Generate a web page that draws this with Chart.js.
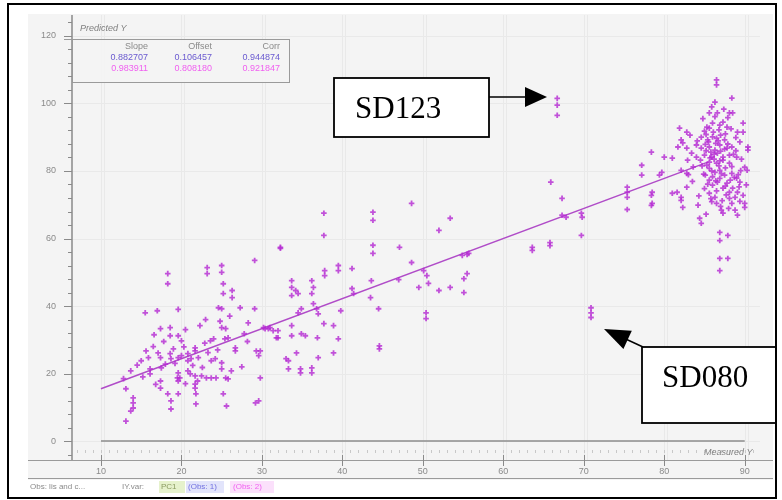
<!DOCTYPE html>
<html>
<head>
<meta charset="utf-8">
<script src="https://cdn.jsdelivr.net/npm/chart.js@4"></script>
<style>
  html, body { margin: 0; padding: 0; background: #fff; }
  #plot { display: block; }
</style>
</head>
<body>
<canvas id="plot" width="782" height="500"></canvas>
<script>
// measured / predicted values
const lowX = [32.3,29.1,25,25,23.2,23.2,18.3,18.3,25.2,25.2,26.3,26.3,15.5,17,19.6,24.6,25,27.3,29.1,23,22.3,17.4,18.6,18.6,19.6,20,25,25.5,28.3,30.4,31,32,32,23.6,24,25.4,25.8,26.7,26.7,21.7,21.7,17.1,17.4,15.6,15.9,18.6,18.7,19.6,20,20.8,20.8,21.2,22.1,23.7,24.2,25,25,29.3,29.6,16.1,16.1,13.7,17.5,19.6,19.8,20.8,21.1,21.7,22.5,23.1,23.7,24.3,25.5,25.8,19.5,19.6,17.4,17.4,13.1,18.3,19.6,21.7,21.7,26.2,25.2,21.8,21.8,14,14,14,18.7,18.7,25.6,29.6,29.8,13.1,33,29.2,13.7,12.8,14.5,15.2,
    16.5,17.8,19,20.3,21.4,22.6,23.3,24.5,22.9,18,19.2,20.5,22,16.8,15,27.5,28.2,27.8,24.8,20.5,16.6,26];
const lowY = [57.4,53.5,52,50,51.4,49.6,49.6,46.6,46.6,43.7,44.6,42.5,38,38.6,39,39.5,39.2,39.5,39.2,36,34.2,33.3,33.6,31.2,31.2,29.7,33.6,33.3,35,33.3,33.6,32.7,30.6,29.7,30.3,30.3,30.6,27.6,26.7,27.6,26.7,26.1,24.7,26.7,24.7,25.9,24.4,24.7,25.3,25.9,23.8,24.4,24.7,23.8,24.4,23.2,21.4,26.7,25.3,21.4,19.9,20.8,21.7,20.2,18.7,20.8,19.9,19.3,19.3,18.7,18.7,18.7,18.7,18.4,18.7,17.8,17.8,15.7,15.5,14,14,16.9,15.7,20.8,14,14,11,12.8,11.3,9.8,11.9,9.5,10.4,11.9,18.7,5.9,24.4,11.3,8.9,18.5,22.5,19,
    28,29.5,27.3,27.9,22.4,21.8,26.2,27,29,22.8,23,17,17.8,16.8,23.8,22,29.5,31.8,35.5,33,31.5,37];

const midX = [37.7,37.7,43.8,43.8,48.6,53.4,52,32.3,43.8,43.8,47.1,48.6,50.1,50.5,49.5,50.7,52,53.4,39.5,39.5,41.2,37.8,37.8,33.7,33.7,33.7,34.2,34.5,36.2,36.4,36.2,41.2,41.4,43.6,43.5,47,34.9,34.5,36.4,36.8,37,39.8,44.5,50.4,50.4,30.2,30.8,31.4,31.8,33.7,33.7,34.9,35.4,36.9,37.7,38.9,39.5,44.6,44.6,34.3,37,38.9,33.3,33.3,34.8,34.8,36.2,36.2,29.8];
const midY = [67.5,60.9,67.8,65.4,70.4,66,62.4,57.1,58,55.6,57.4,52.9,50.5,49,45.5,46.7,44.6,45.5,52,50.5,51.1,50.5,49,47.5,45.5,43.1,44.6,43.7,47.5,45.5,43.7,45.2,43.7,47.5,42.5,47.8,39.2,38,40.7,39.2,37.7,38.6,39.2,38,36.3,33.6,33.3,32.7,30.6,34.2,31.2,31.8,31.2,30.6,34.8,34.2,30.3,28.2,27.3,26.1,24.7,26.1,23.8,21.4,21.4,20.2,21.7,20.2,26.7];

const upperX = [65.9,67.3,67.3,67.8,69.7,69.8,69.7,75.4,75.4,75.4,75.4,63.6,63.6,65.8,65.8,54.9,55.5,55.7,55.5,55.1,55.1,70.9,70.9,70.9,66.7,66.7,66.7];
const upperY = [76.7,71.9,66.9,66.3,67.5,66.3,60.9,75.2,73.7,72.2,68.6,57.4,56.5,58.8,57.9,55,55.3,55.6,49.6,48.1,44,39.5,38,36.6,101.5,99.5,96.5];

const highX = [86.5,86.5,86.3,88.4,88.1,88.5,85.6,86.6,89.8,81.9,82.8,85.3,85.6,86,86.9,87.3,87.8,89.1,89.8,84.6,85.4,86.5,87.5,82.1,82.3,89.4,84,84.6,85.6,86.3,86.9,87.8,88.4,90.4,90.4,81.7,82.8,83.4,84,85,85.9,86.6,87.3,88.1,89,78.4,80,81,82.9,85.6,86.5,87.3,88.1,90,90.3,77.2,77.2,79.7,79.4,82.1,82.8,85.6,86.3,86.9,87.5,88.4,89,89.4,78.5,78.5,81,81.6,82.1,82.1,82.3,82.8,85.6,86,86.6,87.3,87.8,88.1,88.5,88.8,89.1,89.8,90,90,85.6,86.3,86.5,87.1,87.3,88.1,88.4,89.1,84.4,84.6,86.9,86.9,87.9,86.9,87.9,86.9,78.4,78.4,85.2,86.1,87,86.4,85.8,87,86.2,85.3,86.8,87.6,86,85.4,86.9,88.7,87.2,85.9,88.8,89.6,84.8,87.9,83.6,84.9,88.9,86.3,85.1,
    85,86,86.8,87.6,88.3,85.5,86.7,87.9,88.9,85.2,86.2,87.5,88.6,84.5,85.7,86.9,88.4,89.5,84.7,85.9,87.1,88.2,85.1,86.4,87.6,89.3,85,86.5,87.7,89.4,85.8,87,88,84.3,83.5,83,84.1,83.2,87.4,85.9,89.2,90.2,84.2,85.2];
const highY = [107,105.5,100.4,101.6,97.2,97.2,97.2,97.2,94.2,92.7,91.5,93,92.7,94.2,93.6,94.5,93,91.5,91.5,90,89.2,89.7,89.2,89.2,88.3,88.6,87.7,86.8,87.1,86.2,87.7,86.8,87.1,87.1,86.2,87.1,86.8,85.3,84.1,84.7,84.1,85.3,84.1,84.7,84.1,85.6,84.1,83.8,83.2,82.6,82.3,83.2,82.3,81.1,80.2,81.7,78.8,79.6,78.8,80.2,79.3,80.8,79.6,80.2,78.8,79.3,77.9,76.7,73.7,70.4,73.4,73.7,72.2,71.3,69.2,75.2,77.3,75.8,76.7,74.9,76.4,73.7,74.9,72.2,73.7,72.8,70.4,69.2,73.4,72.2,70.4,68.4,67.5,71.9,70.4,66.9,66,64.5,61.8,59.4,60.9,54.1,54.1,50.5,72.8,69.8,90.8,91.5,90.6,88.2,85.6,85.9,83.5,81.7,81.5,80.9,78.3,76.1,77.8,78.1,71.2,70.9,68.4,83.5,95.5,95.8,81.2,79.1,89.9,96.1,87.9,
    91.8,90.1,92.2,91,92.5,88.6,88.9,88,86,86,85,86.5,84.9,83.2,83.9,83,81.3,80.1,81.5,80,79.2,77.3,78.8,77.1,75.5,75.3,74.8,74.1,72.9,71,71.8,69.5,68.9,72.6,76.9,78.9,88.9,90.6,98.3,99,78.9,75.9,69.9,67.2];

// regression line
const fitX = [10, 85.5];
const fitY = [15.5, 82.7];

const xTicks = [10, 20, 30, 40, 50, 60, 70, 80, 90];
const yTicks = [0, 20, 40, 60, 80, 100, 120];

const statsHeader = ['Slope', 'Offset', 'Corr'];
const statsRow1 = ['0.882707', '0.106457', '0.944874'];
const statsRow2 = ['0.983911', '0.808180', '0.921847'];

function toPoints(xs, ys) {
    return xs.map((x, i) => ({ x: x, y: ys[i] }));
}

const allPoints = [].concat(
    toPoints(lowX, lowY),
    toPoints(midX, midY),
    toPoints(upperX, upperY),
    toPoints(highX, highY)
);

function arrowHead(ctx, fx, fy, tx, ty, len, half) {
    const a = Math.atan2(ty - fy, tx - fx);
    ctx.beginPath();
    ctx.moveTo(fx, fy);
    ctx.lineTo(tx - Math.cos(a) * len * 0.6, ty - Math.sin(a) * len * 0.6);
    ctx.stroke();
    ctx.beginPath();
    ctx.moveTo(tx, ty);
    ctx.lineTo(tx - Math.cos(a) * len + Math.sin(a) * half, ty - Math.sin(a) * len - Math.cos(a) * half);
    ctx.lineTo(tx - Math.cos(a) * len - Math.sin(a) * half, ty - Math.sin(a) * len + Math.cos(a) * half);
    ctx.closePath();
    ctx.fill();
}

const backdrop = {
    id: 'backdrop',
    beforeDraw(chart) {
        const ctx = chart.ctx;
        const xs = chart.scales.x, ys = chart.scales.y;
        const area = chart.chartArea;
        ctx.save();
        ctx.fillStyle = '#ffffff';
        ctx.fillRect(0, 0, chart.width, chart.height);
        // grey panel
        ctx.fillStyle = '#f4f4f4';
        ctx.fillRect(28, 14, 745, 466);

        // faint grid
        ctx.strokeStyle = '#e9e9e9';
        ctx.lineWidth = 1;
        xTicks.forEach(v => {
            const px = Math.round(xs.getPixelForValue(v)) + 0.5;
            ctx.beginPath(); ctx.moveTo(px, area.top); ctx.lineTo(px, area.bottom); ctx.stroke();
            ctx.beginPath(); ctx.moveTo(px + 3, area.top); ctx.lineTo(px + 3, area.bottom); ctx.stroke();
        });
        yTicks.forEach(v => {
            const py = Math.round(ys.getPixelForValue(v)) + 0.5;
            ctx.beginPath(); ctx.moveTo(area.left, py); ctx.lineTo(760, py); ctx.stroke();
        });

        // y axis
        ctx.strokeStyle = '#8a8a8a';
        ctx.lineWidth = 1.5;
        ctx.beginPath(); ctx.moveTo(72, area.top); ctx.lineTo(72, 460); ctx.stroke();
        ctx.lineWidth = 1;
        for (let v = -4; v <= 124; v += 4) {
            const py = Math.round(ys.getPixelForValue(v)) + 0.5;
            const major = v % 20 === 0;
            ctx.beginPath(); ctx.moveTo(major ? 64 : 68, py); ctx.lineTo(72, py); ctx.stroke();
        }
        ctx.fillStyle = '#8a8a8a';
        ctx.font = '9px "Liberation Sans", Arial, sans-serif';
        ctx.textAlign = 'right';
        ctx.textBaseline = 'middle';
        yTicks.forEach(v => {
            ctx.fillText(String(v), 56, ys.getPixelForValue(v));
        });

        // zero line
        ctx.strokeStyle = '#8c8c8c';
        ctx.lineWidth = 1.5;
        ctx.beginPath();
        ctx.moveTo(xs.getPixelForValue(xTicks[0]), ys.getPixelForValue(0));
        ctx.lineTo(xs.getPixelForValue(xTicks[xTicks.length - 1]), ys.getPixelForValue(0));
        ctx.stroke();

        // x axis band
        ctx.strokeStyle = '#9a9a9a';
        ctx.lineWidth = 1.2;
        ctx.beginPath(); ctx.moveTo(28, 460.5); ctx.lineTo(773, 460.5); ctx.stroke();
        ctx.beginPath(); ctx.moveTo(28, 478.5); ctx.lineTo(773, 478.5); ctx.stroke();
        ctx.lineWidth = 1;
        ctx.strokeStyle = '#c8c8c8';
        for (let v = 7; v <= 91; v += 1) {
            const px = Math.round(xs.getPixelForValue(v)) + 0.5;
            ctx.beginPath(); ctx.moveTo(px, 450); ctx.lineTo(px, 453); ctx.stroke();
        }
        ctx.strokeStyle = '#8a8a8a';
        xTicks.forEach(v => {
            const px = Math.round(xs.getPixelForValue(v)) + 0.5;
            ctx.beginPath(); ctx.moveTo(px, 455); ctx.lineTo(px, 466); ctx.stroke();
        });
        ctx.fillStyle = '#8a8a8a';
        ctx.textAlign = 'center';
        xTicks.forEach(v => {
            ctx.fillText(String(v), xs.getPixelForValue(v), 472);
        });

        // axis titles
        ctx.font = 'italic 9px "Liberation Sans", Arial, sans-serif';
        ctx.textAlign = 'left';
        ctx.fillStyle = '#808080';
        ctx.fillText('Predicted Y', 80, 28);
        ctx.fillText('Measured Y', 704, 452);
        ctx.restore();
    },
    afterDraw(chart) {
        const ctx = chart.ctx;
        ctx.save();

        // stats box
        ctx.fillStyle = 'rgba(244,244,244,0.9)';
        ctx.fillRect(72, 39, 218, 43);
        ctx.strokeStyle = '#9a9a9a';
        ctx.lineWidth = 1;
        ctx.strokeRect(72.5, 39.5, 217, 43);
        ctx.beginPath(); ctx.moveTo(64, 39.5); ctx.lineTo(72, 39.5); ctx.stroke();
        ctx.font = '9px "Liberation Sans", Arial, sans-serif';
        ctx.textAlign = 'right';
        ctx.textBaseline = 'middle';
        const cols = [148, 212, 280];
        statsHeader.forEach((t, i) => { ctx.fillStyle = '#8a8a8a'; ctx.fillText(t, cols[i], 47); });
        statsRow1.forEach((t, i) => { ctx.fillStyle = '#6a5ad0'; ctx.fillText(t, cols[i], 58); });
        statsRow2.forEach((t, i) => { ctx.fillStyle = '#f060f0'; ctx.fillText(t, cols[i], 69); });

        // status bar
        ctx.textAlign = 'left';
        ctx.font = '8px "Liberation Sans", Arial, sans-serif';
        ctx.fillStyle = '#8a8a8a';
        ctx.fillText('Obs: lis and c...', 30, 487);
        ctx.fillText('IY.var:', 122, 487);
        ctx.fillStyle = '#e6f2cc';
        ctx.fillRect(159, 481, 26, 12);
        ctx.fillStyle = '#8a9a60';
        ctx.fillText('PC1', 161, 487);
        ctx.fillStyle = '#e2e4fb';
        ctx.fillRect(186, 481, 38, 12);
        ctx.fillStyle = '#7070e0';
        ctx.fillText('(Obs: 1)', 188, 487);
        ctx.fillStyle = '#fbe0fb';
        ctx.fillRect(230, 481, 44, 12);
        ctx.fillStyle = '#f060f0';
        ctx.fillText('(Obs: 2)', 233, 487);

        // annotation boxes
        ctx.fillStyle = '#ffffff';
        ctx.strokeStyle = '#000000';
        ctx.lineWidth = 1.8;
        ctx.fillRect(334, 78, 155, 59);
        ctx.strokeRect(334, 78, 155, 59);
        ctx.fillRect(642, 347, 134, 76);
        ctx.strokeRect(642, 347, 134, 76);
        ctx.fillStyle = '#000000';
        ctx.font = '31px "Liberation Serif", "Times New Roman", serif';
        ctx.textBaseline = 'alphabetic';
        ctx.fillText('SD123', 355, 118);
        ctx.fillText('SD080', 662, 387);
        ctx.lineWidth = 1.5;
        arrowHead(ctx, 489, 97, 547, 97, 22, 10);
        arrowHead(ctx, 643, 347, 604, 329, 26, 10);

        // outer frame
        ctx.lineWidth = 2;
        ctx.strokeRect(8, 4, 768, 494);
        ctx.restore();
    }
};

new Chart(document.getElementById('plot'), {
    type: 'scatter',
    data: {
        datasets: [{
            label: 'Obs',
            data: allPoints,
            pointStyle: 'cross',
            pointRadius: 2.8,
            borderWidth: 1.8,
            borderColor: 'rgba(180,40,210,0.8)',
            backgroundColor: 'rgba(180,40,210,0.8)'
        }, {
            label: 'Fit',
            type: 'line',
            data: toPoints(fitX, fitY),
            borderColor: '#b04cc8',
            borderWidth: 1.5,
            pointRadius: 0,
            fill: false
        }]
    },
    options: {
        responsive: false,
        animation: false,
        events: [],
        layout: { padding: { left: 72, top: 15, right: 22, bottom: 40 } },
        plugins: {
            legend: { display: false },
            tooltip: { enabled: false }
        },
        scales: {
            x: { type: 'linear', min: 6.4, max: 91.9, display: false },
            y: { type: 'linear', min: -5.6, max: 126.2, display: false }
        }
    },
    plugins: [backdrop]
});
</script>
</body>
</html>
